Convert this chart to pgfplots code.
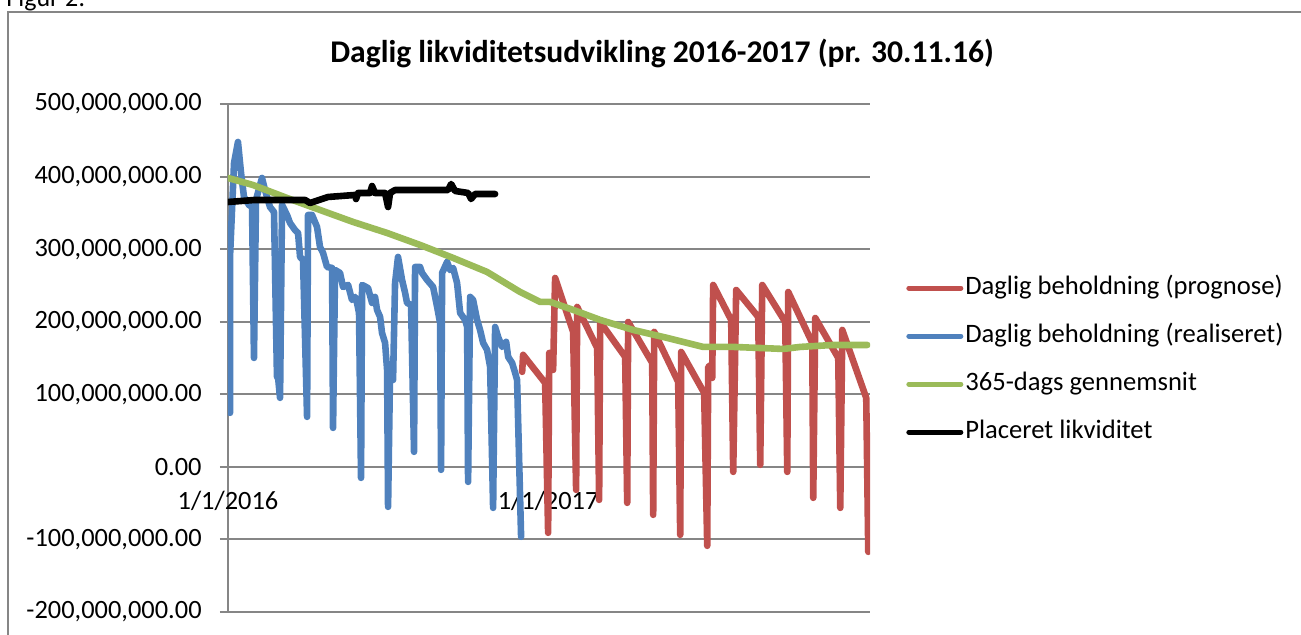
\documentclass[border=0pt]{standalone}
\usepackage{pgfplots}
\pgfplotsset{compat=1.18}
\usepackage{fontspec}
\setmainfont{Carlito}
\definecolor{gridgray}{RGB}{134,134,134}
\definecolor{cred}{RGB}{192,80,77}
\definecolor{cblue}{RGB}{79,129,189}
\definecolor{cgreen}{RGB}{155,187,89}

\begin{document}
\begin{tikzpicture}
\useasboundingbox (0,0) rectangle (650.5pt,-317pt);
\draw[gridgray, line width=1pt] (4pt,-6pt) rectangle (660pt,-330pt);
\node[anchor=base west, inner sep=0pt, font=\fontsize{13pt}{15pt}\selectfont] at (3pt,-3.3pt) {Figur 2:};
\node[anchor=base, inner sep=0pt, font=\fontsize{15.8pt}{18pt}\selectfont\bfseries] at (331pt,-31pt) {Daglig likviditetsudvikling 2016-2017 (pr. 30.11.16)};
\begin{axis}[
  at={(114pt,-306pt)}, anchor=south west,
  width=321pt, height=254pt, scale only axis,
  xmin=0, xmax=734, ymin=-200, ymax=500,
  axis x line=middle, axis y line=left,
  hide obscured x ticks=false, hide obscured y ticks=false,
  axis line style={-, gridgray, line width=1pt},
  ytick={-200,-100,0,100,200,300,400,500},
  yticklabels={{-200,000,000.00},{-100,000,000.00},{0.00},{100,000,000.00},{200,000,000.00},{300,000,000.00},{400,000,000.00},{500,000,000.00}},
  xtick={0,366}, xticklabels={1/1/2016,1/1/2017},
  tick align=outside, major tick length=4pt,
  ytick style={gridgray, line width=1pt},
  xtick style={draw=none},
  ymajorgrids, grid style={gridgray, line width=1pt},
  ticklabel style={font=\fontsize{13.2pt}{15pt}\selectfont},
  yticklabel style={anchor=east, inner sep=0pt, xshift=-9pt},
  xticklabel style={anchor=north, inner sep=0pt, yshift=-8pt},
  legend style={at={(axis description cs:1.056,0.496)}, anchor=west, draw=none, fill=none, inner sep=0pt,
    font=\fontsize{13.3pt}{15pt}\selectfont, row sep=9.5pt,
    nodes={inner sep=1pt, text height=9.5pt, text depth=3pt}},
  legend cell align=left,
  legend image code/.code={\draw[#1, line width=2.5pt, line cap=round] (0pt,0pt) -- (26pt,0pt);},
  every axis plot/.append style={line width=3.3pt, line join=round, line cap=round, mark=none},
]
% Daglig beholdning (prognose)
\addplot[cred] coordinates {
(336.3,130.9)(337.4,154.3)(362.6,115.7)(366.0,-90.9)(367.2,157.0)(370.6,157.0)(371.7,133.6)(374.0,260.3)
(394.6,186.0)(398.0,-31.7)(399.2,220.4)(422.1,163.9)(424.3,-45.5)(425.5,199.7)(454.1,151.5)(456.4,-49.6)
(457.5,199.7)(485.0,143.3)(486.1,-66.1)(487.3,186.0)(514.7,117.1)(517.0,-93.7)(518.1,158.4)(544.4,101.9)
(547.9,-108.8)(549.0,137.7)(552.4,140.5)(553.6,122.6)(554.7,250.7)(575.3,202.5)(577.6,-6.9)(581.0,243.8)
(606.2,206.6)(608.5,2.8)(610.8,250.7)(637.1,199.7)(639.4,-6.9)(640.5,241.0)(668.0,170.8)(669.1,-42.7)
(671.4,205.2)(697.7,150.1)(700.0,-56.5)(702.3,188.7)(729.7,95.0)(732.0,-117.1)
};
\addlegendentry{Daglig beholdning (prognose)}
% Daglig beholdning (realiseret)
\addplot[cblue] coordinates {
(2.3,74.4)(2.3,289.3)(6.9,418.7)(11.4,447.7)(14.9,405.0)(18.3,371.9)(24.0,360.9)(27.5,358.1)(29.7,150.1)
(32.0,367.8)(36.6,388.4)(38.9,398.1)(42.3,381.5)(48.0,358.1)(52.6,351.2)(56.0,124.0)(57.2,124.0)(59.5,95.1)
(61.8,360.9)(67.5,347.1)(70.9,336.1)(76.6,326.4)(80.1,322.3)(82.4,289.3)(85.8,285.1)(90.4,68.9)
(91.5,347.1)(96.1,347.1)(101.8,330.6)(105.2,303.0)(108.7,294.8)(113.2,275.5)(119.0,274.1)(120.1,53.7)
(122.4,271.3)(128.1,267.2)(131.5,247.9)(137.3,250.7)(141.8,230.0)(145.3,234.2)(147.5,225.9)(149.8,212.1)(152.1,-15.2)
(153.3,250.7)(160.1,246.5)(164.7,225.9)(168.1,234.2)(170.4,216.3)(173.9,206.6)(176.1,184.6)(179.6,170.8)(181.9,133.6)(183.0,-55.1)
(185.3,133.6)(188.7,119.8)(191.0,253.4)(194.4,289.3)(199.0,257.6)(202.5,239.7)(204.7,225.9)(209.3,223.1)(212.7,20.7)
(213.9,275.5)(219.6,275.5)(221.9,267.2)(227.6,257.6)(234.5,247.9)(239.1,220.4)(242.5,198.3)(243.6,-4.1)
(244.8,267.2)(250.5,282.4)(253.9,271.3)(257.4,274.1)(261.9,253.4)(265.4,212.1)(271.1,202.5)(273.4,192.8)(274.5,-20.7)
(276.8,234.2)(280.2,230.0)(284.8,202.5)(288.2,188.7)(291.7,170.8)(296.2,161.2)(299.7,137.7)(303.1,-56.5)
(305.4,192.8)(308.8,179.1)(313.4,165.3)(318.0,172.2)(320.3,151.5)(324.8,143.3)(328.3,129.5)(330.5,119.8)(335.1,-96.4)
};
\addlegendentry{Daglig beholdning (realiseret)}
% 365-dags gennemsnit
\addplot[cgreen] coordinates {
(0,398.1)(28.6,388.4)(67.5,370.5)(105.2,354.0)(143.0,337.5)(181.9,322.3)(219.6,305.8)(257.4,287.9)
(296.2,268.6)(334.0,241.0)(356.9,227.3)(368.3,227.3)(394.6,216.3)(425.5,202.5)(463.2,188.7)(502.1,177.7)
(543.3,165.3)(577.6,165.3)(634.8,162.5)(654.3,165.3)(692.0,168.0)(730.9,168.0)
};
\addlegendentry{365-dags gennemsnit}
% Placeret likviditet
\addplot[black] coordinates {
(0,365.0)(30.9,367.8)(88.1,367.8)(93.8,363.6)(114.4,371.9)(145.3,374.7)(146.4,369.1)(148.7,377.4)
(162.4,377.4)(164.7,387.0)(168.1,377.4)(179.6,377.4)(183.0,358.1)(185.3,377.4)(191.0,381.5)(251.6,381.5)
(255.1,389.8)(259.6,380.2)(274.5,377.4)(277.9,369.1)(282.5,376.0)(305.4,376.0)
};
\addlegendentry{Placeret likviditet}
\end{axis}
\end{tikzpicture}
\end{document}
